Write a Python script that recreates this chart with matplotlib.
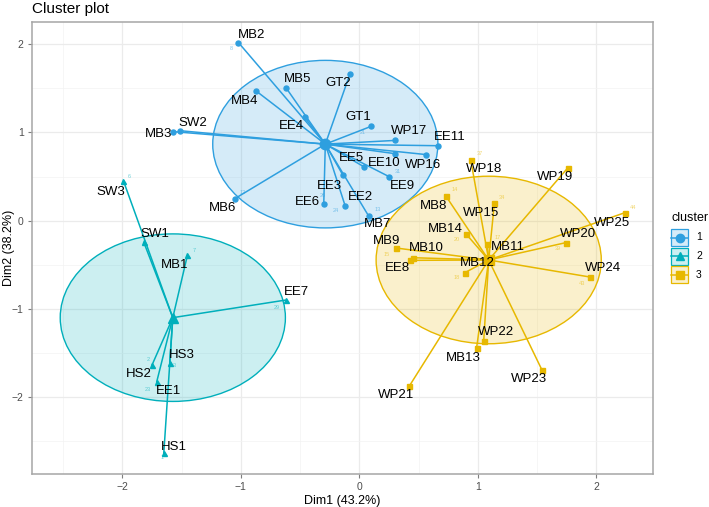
import numpy as np
import matplotlib
matplotlib.use("Agg")
import matplotlib.pyplot as plt
from matplotlib.patches import Ellipse, Rectangle

plt.rcParams['font.family'] = ['Liberation Sans', 'DejaVu Sans']

# ---------------- data ----------------
c1_labels = ["MB2", "MB5", "GT2", "MB4", "EE4", "GT1", "WP17", "EE11", "WP16", "EE10",
             "EE5", "EE9", "EE3", "EE2", "EE6", "MB7", "MB6", "SW2", "MB3"]
c1_x = [-1.02, -0.62, -0.08, -0.87, -0.46, 0.10, 0.30, 0.66, 0.56, 0.30,
        0.04, 0.25, -0.14, -0.12, -0.30, 0.08, -1.05, -1.51, -1.57]
c1_y = [2.02, 1.51, 1.66, 1.47, 1.17, 1.07, 0.91, 0.85, 0.75, 0.76,
        0.61, 0.50, 0.52, 0.17, 0.19, 0.05, 0.25, 1.02, 1.01]

c2_labels = ["SW3", "SW1", "MB1", "EE7", "HS3", "HS2", "EE1", "HS1"]
c2_x = [-1.99, -1.82, -1.45, -0.62, -1.60, -1.75, -1.71, -1.65]
c2_y = [0.45, -0.24, -0.39, -0.90, -1.61, -1.64, -1.83, -2.64]

c3_labels = ["WP18", "WP19", "MB8", "WP15", "WP25", "MB14", "MB11", "WP20", "MB9",
             "MB10", "EE8", "MB12", "WP24", "WP22", "MB13", "WP23", "WP21"]
c3_x = [0.94, 1.76, 0.73, 1.14, 2.24, 0.90, 1.08, 1.74, 0.31,
        0.45, 0.43, 0.89, 1.95, 1.05, 0.99, 1.54, 0.42]
c3_y = [0.69, 0.60, 0.28, 0.20, 0.09, -0.15, -0.26, -0.25, -0.31,
        -0.42, -0.45, -0.59, -0.64, -1.36, -1.44, -1.69, -1.88]

# small row-index numbers shown next to some points
row_ids = {"MB2": "8", "GT1": "21", "EE9": "31", "MB7": "13", "EE2": "24", "EE6": "26",
           "MB6": "12", "SW3": "6", "MB1": "7", "EE7": "29", "EE1": "23", "HS2": "2",
           "HS3": "3", "HS1": "1", "WP18": "37", "MB8": "14", "WP15": "34", "WP25": "44",
           "MB14": "20", "MB11": "17", "WP20": "39", "MB9": "15", "MB12": "18", "WP24": "43"}

cluster_names = ["1", "2", "3"]
ellipse_level = 0.95
x_title = "Dim1 (43.2%)"
y_title = "Dim2 (38.2%)"
plot_title = "Cluster plot"
major_ticks = [-2, -1, 0, 1, 2]
minor_ticks = [-2.5, -1.5, -0.5, 0.5, 1.5, 2.5]

# ---------------- style ----------------
colors = ["#2E9FDF", "#00AFBB", "#E7B800"]
markers = ["o", "^", "s"]

# label offsets in pixels (dx right, dy down)
label_off = {
    "MB2": (13, -8), "MB5": (12, -9), "GT2": (-12, 9), "MB4": (-12, 10), "EE4": (-13, 9),
    "GT1": (-13, -9), "WP17": (14, -9), "EE11": (12, -9), "WP16": (-3, 10), "EE10": (-11, 9),
    "EE5": (-13, -9), "EE9": (13, 9), "EE3": (-13, 11), "EE2": (15, -9), "EE6": (-16, -2),
    "MB7": (9, 8), "MB6": (-12, 9), "SW2": (12, -8), "MB3": (-15, 2),
    "SW3": (-13, 11), "SW1": (11, -8), "MB1": (-13, 10), "EE7": (11, -8), "HS3": (12, -8),
    "HS2": (-13, 9), "EE1": (12, 9), "HS1": (10, -6),
    "WP18": (13, 9), "WP19": (-13, 9), "MB8": (-12, 10), "WP15": (-13, 10), "WP25": (-13, 10),
    "MB14": (-21, -5), "MB11": (21, 3), "WP20": (12, -9), "MB9": (-9, -7), "MB10": (14, -10),
    "EE8": (-13, 8), "MB12": (13, -10), "WP24": (13, -9), "WP22": (12, -9), "MB13": (-13, 10),
    "WP23": (-13, 9), "WP21": (-13, 9),
}
id_off = {
    "MB2": (-7, 6), "GT1": (-8, 6), "EE9": (9, -5), "MB7": (9, -7), "EE2": (-9, 5), "EE6": (-1, -8),
    "MB6": (8, -6), "SW3": (6, -4), "MB1": (7, -5), "EE7": (-9, 7), "EE1": (-9, 7), "HS2": (-4, -6),
    "HS3": (5, 3), "HS1": (-2, 4), "WP18": (9, -6), "MB8": (9, -6), "WP15": (8, -6), "WP25": (8, -5),
    "MB14": (-9, 6), "MB11": (10, -6), "WP20": (-8, 6), "MB9": (-9, 6), "MB12": (-8, 5), "WP24": (-8, 6),
}

W, H, DPI = 709, 507, 100
fig = plt.figure(figsize=(W / DPI, H / DPI), dpi=DPI)
px_l, px_r, px_t, px_b = 32, 653, 22, 474
ax = fig.add_axes([px_l / W, 1 - px_b / H, (px_r - px_l) / W, (px_b - px_t) / H])

clusters = [(c1_labels, c1_x, c1_y), (c2_labels, c2_x, c2_y), (c3_labels, c3_x, c3_y)]

all_x, all_y = [], []
for k, (labs, xs, ys) in enumerate(clusters):
    xs = np.asarray(xs); ys = np.asarray(ys)
    cx, cy = xs.mean(), ys.mean()
    col = colors[k]
    ax.add_patch(Ellipse((cx, cy), 2 * ellipse_level, 2 * ellipse_level, facecolor=col, alpha=0.2,
                         edgecolor='none', zorder=1))
    ax.add_patch(Ellipse((cx, cy), 2 * ellipse_level, 2 * ellipse_level, facecolor='none',
                         edgecolor=col, lw=1.0, zorder=2))
    for xi, yi in zip(xs, ys):
        ax.plot([cx, xi], [cy, yi], color=col, lw=1.1, zorder=3, solid_capstyle='butt')
    ax.plot(xs, ys, linestyle='none', marker=markers[k], color=col, markersize=3.6, zorder=4)
    ax.plot([cx], [cy], linestyle='none', marker=markers[k], color=col, markersize=7.5, zorder=4)
    for lab, xi, yi in zip(labs, xs, ys):
        dx, dy = label_off[lab]
        ax.annotate(lab, (xi, yi), xytext=(dx * 0.72, -dy * 0.72), textcoords='offset points',
                    ha='center', va='center', fontsize=9.5, color='black', zorder=5)
        if lab in row_ids:
            ix, iy = id_off[lab]
            ax.annotate(row_ids[lab], (xi, yi), xytext=(ix * 0.72, -iy * 0.72),
                        textcoords='offset points', ha='center', va='center',
                        fontsize=4, color=col, alpha=0.55, zorder=5)
    all_x += list(xs) + [cx - ellipse_level, cx + ellipse_level]
    all_y += list(ys) + [cy - ellipse_level, cy + ellipse_level]

ax.set_xticks(major_ticks)
ax.set_yticks(major_ticks)
ax.set_xticks(minor_ticks, minor=True)
ax.set_yticks(minor_ticks, minor=True)

xmin, xmax = min(all_x), max(all_x)
ymin, ymax = min(all_y), max(all_y)
ex, ey = 0.05 * (xmax - xmin), 0.05 * (ymax - ymin)
ax.set_xlim(xmin - ex, xmax + ex)
ax.set_ylim(ymin - ey, ymax + ey)

ax.grid(which='major', color='#EBEBEB', lw=0.9, zorder=0)
ax.grid(which='minor', color='#F3F3F3', lw=0.5, zorder=0)
ax.set_axisbelow(True)
ax.tick_params(which='major', length=3, width=0.8, color='#7F7F7F', labelsize=7.5,
               labelcolor='#4D4D4D', pad=3)
ax.tick_params(which='minor', length=0)
for s in ax.spines.values():
    s.set_color('#A6A6A6'); s.set_linewidth(1.1)

ax.set_xlabel(x_title, fontsize=9, labelpad=2)
ax.set_ylabel(y_title, fontsize=9)
ax.yaxis.set_label_coords(-(px_l - 15) / (px_r - px_l), 0.5)
fig.text(px_l / W, 1 - 9 / H, plot_title, fontsize=11, ha='left', va='center')

# legend drawn in pixel space
lg = fig.add_axes([0, 0, 1, 1], facecolor='none')
lg.set_xlim(0, W); lg.set_ylim(H, 0); lg.axis('off')
lg.text(671, 218, "cluster", fontsize=9, ha='left', va='center')
key = 18.5
y0 = 229
for k, name in enumerate(cluster_names):
    yt = y0 + k * key
    lg.add_patch(Rectangle((671, yt), 17, key - 1.5, facecolor=colors[k], alpha=0.2,
                           edgecolor='none'))
    lg.add_patch(Rectangle((671, yt), 17, key - 1.5, facecolor='none', edgecolor=colors[k], lw=0.9))
    yc = yt + (key - 1.5) / 2
    lg.plot([671, 688], [yc, yc], color=colors[k], lw=1.1)
    lg.plot([679.5], [yc], marker=markers[k], color=colors[k], markersize=6)
    lg.text(696, yc, name, fontsize=7.5, ha='left', va='center')

fig.savefig("out.png", dpi=DPI)
